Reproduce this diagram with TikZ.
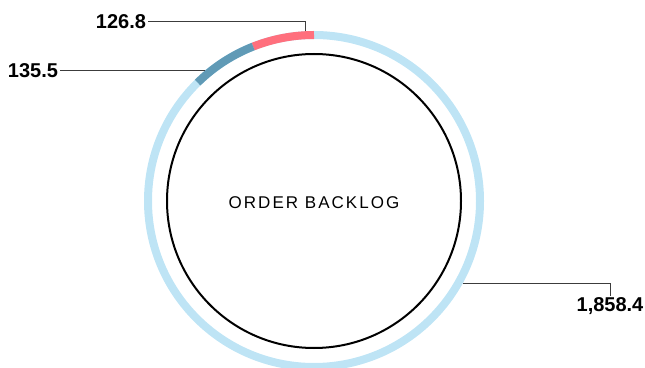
\documentclass[tikz,border=0pt]{standalone}
\usepackage{xcolor}
\usepackage{tikz}
\usepackage{fontspec}
\setmainfont{Liberation Sans}
\newfontfamily\spacedfont[LetterSpace=12]{Liberation Sans}

\definecolor{ringblue}{RGB}{190,228,245}
\definecolor{accred}{RGB}{255,111,125}
\definecolor{accblue}{RGB}{96,154,182}
\definecolor{leadgrey}{RGB}{60,60,60}

\tikzset{
    val/.style={font=\fontsize{20}{20}\selectfont\bfseries, inner sep=2pt, outer sep=0pt},
    lead/.style={draw=leadgrey, line width=1pt},
    band/.style={line width=8pt}
}

\begin{document}
\begin{tikzpicture}[x=1pt, y=1pt]
                                \clip (0, 0) rectangle (645, 367);

                                \coordinate (c) at (314, 166);
                                \draw[band, ringblue] (c) circle (166pt);
                                \draw[band, accred] (314, 332) arc (90:111.5:166pt);
                                \draw[band, accblue] (c) ++(111.5:166pt) arc (111.5:134.5:166pt);
                                \draw[black, line width=2pt] (c) circle (147pt);

                                \node (mid) at (314, 158) [anchor=base, font=\spacedfont\fontsize{17}{17}\selectfont] {ORDER BACKLOG};

                                \coordinate (tip1) at (305, 336);
                                \coordinate (tip2) at (204.5, 296);
                                \coordinate (tip3) at (463, 84);

                                \node (lbl1) at (148, 345) [val, anchor=east] {126.8};
                                \node (lbl2) at (60, 296) [val, anchor=east] {135.5};
                                \node (lbl3) at (610, 71) [val, anchor=north] {1,858.4};

                                \draw[lead] (lbl1.east) -| (tip1);
                                \draw[lead] (lbl2.east) -- (tip2);
                                \draw[lead] (tip3) -| (lbl3.north);
                            \end{tikzpicture}
\end{document}
